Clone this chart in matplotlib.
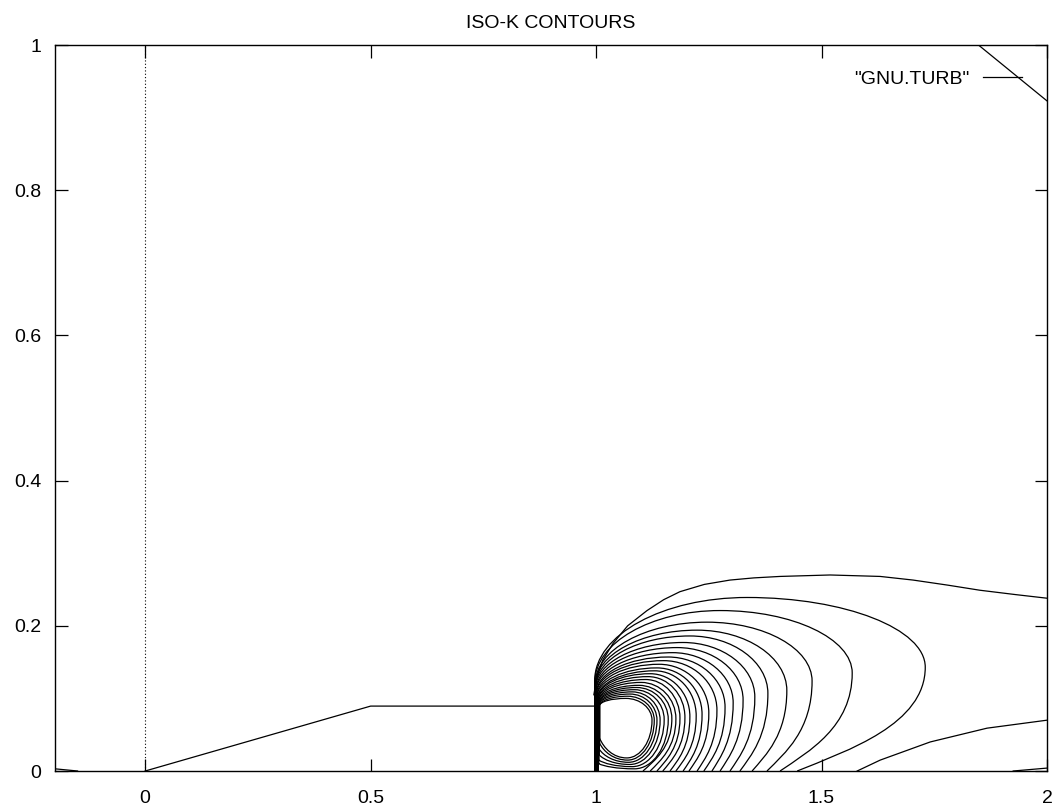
import numpy as np
import matplotlib
matplotlib.use("Agg")
from matplotlib import pyplot as plt
from matplotlib.path import Path
from matplotlib.patches import PathPatch

plt.rcParams['font.family'] = ['Liberation Sans', 'DejaVu Sans']

# rings around the recirculation bubble behind the step, outer -> inner
ring_wall_x = [0.997, 0.997, 0.998, 0.998, 0.999, 0.999, 1.000, 1.000, 1.001, 1.001, 1.002, 1.002,
               1.003, 1.003, 1.004, 1.004, 1.005, 1.005, 1.006, 1.006, 1.007, 1.007, 1.008, 1.008]
ring_wall_y = [0.125, 0.122, 0.120, 0.118, 0.116, 0.114, 0.112, 0.110, 0.108, 0.106, 0.104, 0.102,
               0.100, 0.099, 0.098, 0.097, 0.096, 0.095, 0.094, 0.093, 0.092, 0.091, 0.090, 0.090]
ring_top_x = [1.335, 1.275, 1.246, 1.224, 1.208, 1.193, 1.180, 1.170, 1.160, 1.150, 1.140, 1.135,
              1.130, 1.120, 1.115, 1.110, 1.100, 1.095, 1.090, 1.085, 1.080, 1.075, 1.070, 1.066]
ring_top_y = [0.239, 0.221, 0.205, 0.194, 0.186, 0.177, 0.170, 0.163, 0.157, 0.152, 0.147, 0.142,
              0.138, 0.134, 0.130, 0.126, 0.122, 0.118, 0.115, 0.112, 0.109, 0.106, 0.103, 0.100]
ring_right_x = [1.730, 1.568, 1.479, 1.423, 1.381, 1.352, 1.326, 1.304, 1.286, 1.268, 1.250, 1.235,
                1.222, 1.208, 1.197, 1.186, 1.177, 1.168, 1.160, 1.151, 1.142, 1.135, 1.129, 1.124]
ring_right_y = [0.143, 0.135, 0.124, 0.111, 0.107, 0.102, 0.098, 0.094, 0.088, 0.084, 0.080, 0.078,
                0.076, 0.075, 0.074, 0.073, 0.072, 0.072, 0.071, 0.071, 0.070, 0.070, 0.070, 0.070]
# rings that reach the floor
ring_foot_x = [1.446, 1.408, 1.379, 1.346, 1.319, 1.297, 1.275, 1.257, 1.239, 1.224, 1.206, 1.193,
               1.177, 1.164, 1.148, 1.135, 1.120, 1.104]
# closed rings (the innermost ones)
ring_bottom_x = [1.085, 1.080, 1.075, 1.072, 1.070, 1.068]
ring_bottom_y = [0.003, 0.006, 0.009, 0.012, 0.015, 0.018]
ring_join_y = [0.010, 0.015, 0.022, 0.030, 0.038, 0.045]

# open contours
outer_x = [0.995, 1.002, 1.015, 1.038, 1.070, 1.113, 1.150, 1.186, 1.240, 1.297, 1.350, 1.408,
           1.519, 1.630, 1.703, 1.780, 1.851, 1.930, 2.0]
outer_y = [0.105, 0.130, 0.153, 0.176, 0.200, 0.221, 0.236, 0.247, 0.257, 0.263, 0.266, 0.268,
           0.270, 0.268, 0.263, 0.256, 0.249, 0.243, 0.238]
low_x = [1.579, 1.630, 1.741, 1.867, 2.0]
low_y = [0.0, 0.015, 0.040, 0.059, 0.070]
corner_x = [1.848, 2.0]
corner_y = [1.0, 0.923]
wedge_r_x = [1.925, 2.0]
wedge_r_y = [0.0, 0.004]
wedge_l_x = [-0.2, -0.15]
wedge_l_y = [0.003, 0.0]

# step geometry
step_x = [0.0, 0.5, 1.0, 1.0]
step_y = [0.0, 0.0894, 0.0894, 0.0]

x_ticks = [0, 0.5, 1, 1.5, 2]
x_labels = ['0', '0.5', '1', '1.5', '2']
y_ticks = [0, 0.2, 0.4, 0.6, 0.8, 1]
y_labels = ['0', '0.2', '0.4', '0.6', '0.8', '1']

K = 0.55
LW = 0.9


def ring_path(i):
    xw, ys = ring_wall_x[i], ring_wall_y[i]
    cx, yt = ring_top_x[i], ring_top_y[i]
    xr, cy = ring_right_x[i], ring_right_y[i]
    verts = []
    codes = []
    closed = i >= len(ring_foot_x)
    if closed:
        j = i - len(ring_foot_x)
        yj = ring_join_y[j]
    else:
        yj = 0.0
    verts += [(xw, yj), (xw, ys)]
    codes += [Path.MOVETO, Path.LINETO]
    verts += [(xw, ys + K * (yt - ys)), (cx - K * (cx - xw), yt), (cx, yt)]
    verts += [(cx + K * (xr - cx), yt), (xr, cy + K * (yt - cy)), (xr, cy)]
    codes += [Path.CURVE4] * 6
    if not closed:
        xf = ring_foot_x[i]
        verts += [(xr, 0.45 * cy), (xf + 0.4 * (xr - xf), 0.2 * cy), (xf, 0.0)]
        codes += [Path.CURVE4] * 3
    else:
        xb, yb = ring_bottom_x[j], ring_bottom_y[j]
        verts += [(xr, cy - K * (cy - yb)), (xb + K * (xr - xb), yb), (xb, yb)]
        verts += [(xb - 0.5 * (xb - xw), yb), (xw + 0.15 * (xb - xw), yj - 0.5 * (yj - yb)), (xw, yj)]
        codes += [Path.CURVE4] * 6
    return Path(verts, codes)


fig = plt.figure(figsize=(10.56, 8.08), dpi=100)
ax = fig.add_axes([55 / 1056, 1 - 771 / 808, 992 / 1056, 726 / 808])

ax.plot(outer_x, outer_y, color='black', lw=LW, label='"GNU.TURB"')
for xs, ys_ in [(low_x, low_y), (corner_x, corner_y), (wedge_r_x, wedge_r_y),
                (wedge_l_x, wedge_l_y), (step_x, step_y)]:
    ax.plot(xs, ys_, color='black', lw=LW)

for i in range(len(ring_top_x)):
    ax.add_patch(PathPatch(ring_path(i), fill=False, edgecolor='black', lw=LW))

ax.axvline(0, color='black', lw=0.8, ls=(0, (1, 2)))

ax.set_xlim(-0.2, 2)
ax.set_ylim(0, 1)
ax.set_xticks(x_ticks)
ax.set_xticklabels(x_labels)
ax.set_yticks(y_ticks)
ax.set_yticklabels(y_labels)
ax.tick_params(direction='in', top=True, right=True, length=9, width=0.9, labelsize=14)
ax.tick_params(axis='x', pad=14)
ax.tick_params(axis='y', pad=10)
for s in ax.spines.values():
    s.set_linewidth(1.0)

ax.set_title('ISO-K CONTOURS', fontsize=14, pad=12)
ax.legend(loc='upper right', frameon=False, markerfirst=False, fontsize=14,
          handlelength=2.0, handletextpad=0.7, borderaxespad=0.9)

plt.savefig('out.png', dpi=100)
